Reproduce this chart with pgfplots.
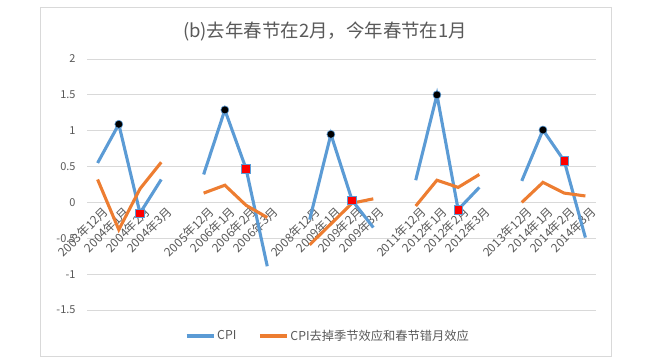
\documentclass[border=0pt]{standalone}
\usepackage{fontspec}
\setmainfont{Noto Sans CJK SC}
\usepackage{pgfplots}
\usepackage{pgfplotstable}
\pgfplotsset{compat=1.18}
\definecolor{xlblue}{HTML}{5B9BD5}
\definecolor{xlorange}{HTML}{ED7D31}
\definecolor{xlgrid}{HTML}{D9D9D9}
\definecolor{xltext}{HTML}{595959}
\pgfplotstableread{
x cpi adj
0 0.55 0.32
1 1.09 -0.38
2 -0.15 0.19
3 0.32 0.56
4 nan nan
5 0.39 0.13
6 1.29 0.24
7 0.47 -0.04
8 -0.89 -0.21
9 nan nan
10 -0.24 -0.59
11 0.95 -0.30
12 0.03 -0.01
13 -0.35 0.05
14 nan nan
15 0.31 -0.05
16 1.50 0.31
17 -0.10 0.21
18 0.21 0.39
19 nan nan
20 0.30 0.00
21 1.01 0.28
22 0.58 0.13
23 -0.49 0.09
}\datatab
\pgfplotstableread{
x y
1 1.09
6 1.29
11 0.95
16 1.50
21 1.01
}\peaks
\pgfplotstableread{
x y
2 -0.15
7 0.47
12 0.03
17 -0.10
22 0.58
}\febs
\begin{document}
\begin{tikzpicture}
\begin{axis}[
  name=ax,
  scale only axis,
  width=509bp, height=251bp,
  xmin=-0.5, xmax=23.5,
  ymin=-1.5, ymax=2,
  axis x line=middle,
  axis y line=left,
  x axis line style={draw=none},
  y axis line style={draw=none},
  axis line style={-},
  ytick={-1.5,-1,-0.5,0,0.5,1,1.5,2},
  yticklabels={-1.5,-1,-0.5,0,0.5,1,1.5,2},
  ymajorgrids,
  grid style={xlgrid, line width=0.8pt},
  major tick length=0pt,
  xtick={0,1,2,3,5,6,7,8,10,11,12,13,15,16,17,18,20,21,22,23},
  xticklabels={2003年12月,2004年1月,2004年2月,2004年3月,
    2005年12月,2006年1月,2006年2月,2006年3月,
    2008年12月,2009年1月,2009年2月,2009年3月,
    2011年12月,2012年1月,2012年2月,2012年3月,
    2013年12月,2014年1月,2014年2月,2014年3月},
  xticklabel style={rotate=45, anchor=north east, font=\fontsize{12}{14}\selectfont, text=xltext, inner sep=1pt, yshift=-4bp, xshift=2bp},
  yticklabel style={font=\fontsize{11}{13}\selectfont, text=xltext, xshift=-8bp},
  unbounded coords=jump,
  clip=false,
  legend columns=2,
  legend style={at={(0.4735,-0.1036)}, anchor=center, draw=none, fill=none,
    font=\fontsize{12.3}{14}\selectfont, text=xltext,
    /tikz/every even column/.append style={column sep=20bp}},
  legend image code/.code={\draw[#1] (0bp,0bp) -- (27bp,0bp);},
]
\addplot[xlblue, line width=3.1pt, no markers] table[x=x, y=cpi] {\datatab};
\addlegendentry{CPI}
\addplot[xlorange, line width=3.1pt, no markers] table[x=x, y=adj] {\datatab};
\addlegendentry{CPI去掉季节效应和春节错月效应}
\addplot[only marks, mark=*, mark size=4pt, mark options={fill=black, draw=xlblue, line width=0.6pt}, forget plot] table[x=x, y=y] {\peaks};
\addplot[only marks, mark=square*, mark size=4.3pt, mark options={fill=red, draw=xlblue, line width=0.7pt}, forget plot] table[x=x, y=y] {\febs};
\end{axis}
\draw[xlgrid, line width=0.8pt] ([shift={(-47bp,-46bp)}]ax.south west) rectangle ([shift={(15bp,52bp)}]ax.north east);
\node[text=xltext, font=\fontsize{18.5}{21}\selectfont] at ([shift={(238bp,278bp)}]ax.south west) {(b)去年春节在2月，今年春节在1月};
\pgfresetboundingbox
\path[use as bounding box] ([shift={(-87bp,-52bp)}]ax.south west) rectangle ([shift={(54bp,59bp)}]ax.north east);
\end{tikzpicture}
\end{document}
